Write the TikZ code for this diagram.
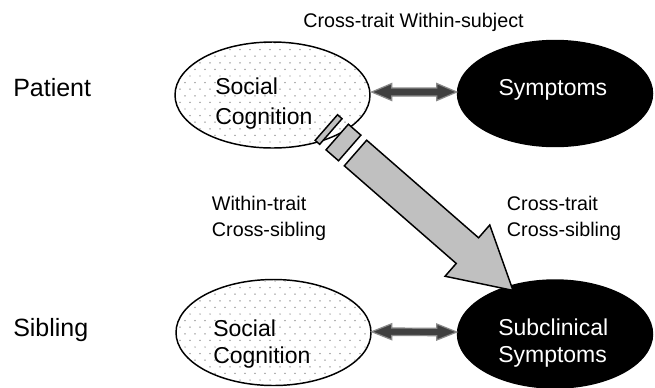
\documentclass[tikz,border=0pt]{standalone}
\usepackage{fontspec}
\setmainfont{Liberation Sans}
\usetikzlibrary{calc,shapes.geometric}
\definecolor{arrowgray}{HTML}{C0C0C0}
\definecolor{dblfill}{HTML}{404040}
\definecolor{dblline}{HTML}{8A8A8A}
\definecolor{dotgray}{HTML}{7A7A7A}
\begin{document}
\begin{tikzpicture}[x=0.75pt, y=-0.75pt,
  ell/.style={ellipse, draw=black, line width=1.1pt, inner sep=0pt, minimum width=146.25pt, minimum height=79.5pt},
  sidelbl/.style={font=\fontsize{18.75}{22}\selectfont, inner sep=0pt, anchor=base west},
  caplbl/.style={font=\fontsize{14.8}{18}\selectfont, inner sep=0pt, anchor=base west},
  intext/.style={font=\fontsize{17.25}{20}\selectfont, inner sep=0pt, anchor=base west},
  dbl/.style={fill=dblfill, draw=dblline, line width=0.9pt, line join=miter},
  fat/.style={fill=arrowgray, draw=black, line width=1.1pt, line join=miter}]
\useasboundingbox (0,0) rectangle (655,387);
\fill[white] (0,0) rectangle (655,387);

% ellipses
\node[ell, fill=white] (scP) at (272.5,95) {};
\node[ell, fill=black] (syP) at (555,93.5) {};
\node[ell, fill=white] (scS) at (273.5,332.5) {};
\node[ell, fill=black, minimum height=81pt] (syS) at (555,334) {};

% dot fills
\begin{scope}
\clip (scP.center) ellipse [x radius=72.3pt, y radius=39pt];
\foreach \r in {0,...,16} { \foreach \c in {0,...,20} {
  \fill[dotgray] ({175+10*\c+5*mod(\r,2)},{43+6.6*\r}) circle[radius=0.55pt]; } }
\end{scope}
\begin{scope}
\clip (scS.center) ellipse [x radius=73pt, y radius=38.8pt];
\foreach \r in {0,...,16} { \foreach \c in {0,...,20} {
  \fill[dotgray] ({175+10*\c+5*mod(\r,2)},{281+6.6*\r}) circle[radius=0.55pt]; } }
\end{scope}

% labels
\node[sidelbl] (pat) at (13,96.5) {Patient};
\node[sidelbl] (sib) at (13,336.5) {Sibling};
\node[caplbl] (hdr) at (303,27) {Cross-trait Within-subject};
\node[caplbl] (wt1) at (211.7,210) {Within-trait};
\node[caplbl] (wt2) at (211.7,236.7) {Cross-sibling};
\node[caplbl] (ct1) at (506.7,210) {Cross-trait};
\node[caplbl] (ct2) at (506.7,236.7) {Cross-sibling};

\node[intext] (tl1) at (215,94) {Social};
\node[intext] (tl2) at (215,124.5) {Cognition};
\node[intext] (bl1) at (213,336) {Social};
\node[intext] (bl2) at (213,363) {Cognition};
\node[intext, text=white] (tr1) at (498.3,95) {Symptoms};
\node[intext, text=white] (br1) at (498,335) {Subclinical};
\node[intext, text=white] (br2) at (498,362) {Symptoms};

% double arrows
\coordinate (t1) at ($(scP.east)+(1,-3)$);
\coordinate (t2) at ($(syP.west)+(0,-1.5)$);
\draw[dbl] (t1) -- ($(t1)+(20,-8.5)$) -- ($(t1)+(20,-4)$) -- ($(t2)+(-20,-4)$) -- ($(t2)+(-20,-8.5)$) -- (t2)
  -- ($(t2)+(-20,8.5)$) -- ($(t2)+(-20,4)$) -- ($(t1)+(20,4)$) -- ($(t1)+(20,8.5)$) -- cycle;
\coordinate (b1) at ($(scS.east)+(0,-0.8)$);
\coordinate (b2) at ($(syS.west)+(0,-2)$);
\draw[dbl] (b1) -- ($(b1)+(20,-8)$) -- ($(b1)+(20,-3.7)$) -- ($(b2)+(-20,-3.7)$) -- ($(b2)+(-20,-8)$) -- (b2)
  -- ($(b2)+(-20,8)$) -- ($(b2)+(-20,3.7)$) -- ($(b1)+(20,3.7)$) -- ($(b1)+(20,8)$) -- cycle;

% big broken arrow
\begin{scope}[shift={(355.5,153)}, rotate=-41.1]
\draw[fat] (0,-17) -- (148.5,-17) -- (148.5,-34) -- (209,0) -- (148.5,34) -- (148.5,17) -- (0,17) -- cycle;
\draw[fat] (-24.3,-17) rectangle (-7.7,17);
\draw[fat] (-38.7,-17) rectangle (-32.7,17);
\end{scope}
\end{tikzpicture}
\end{document}
